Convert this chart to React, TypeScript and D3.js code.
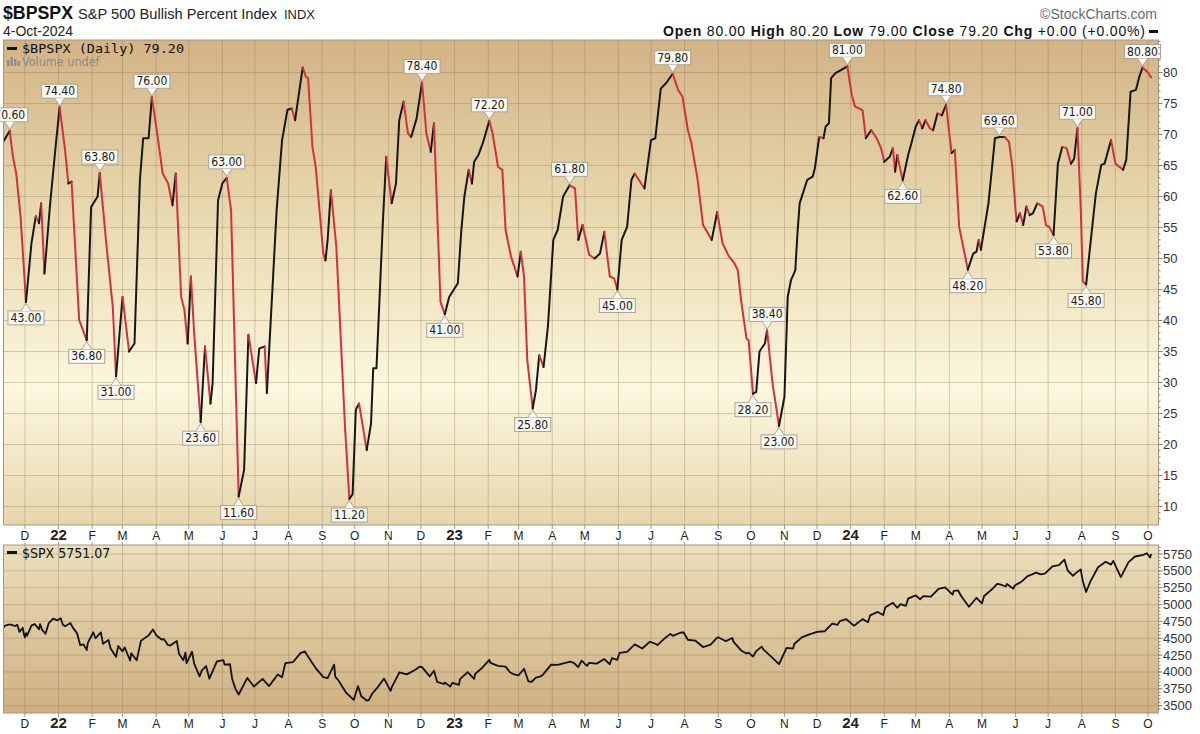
import React from 'react';
import * as d3 from 'd3';

// ---------- DATA ----------
const bpspxSeries: [string, number][] = [
  ["2021-11-11", 68.8], ["2021-11-17", 70.6], ["2021-11-20", 66.4], ["2021-11-23", 63.7], ["2021-11-27", 56.8],
  ["2021-12-02", 43.0], ["2021-12-07", 52.4], ["2021-12-11", 56.8], ["2021-12-14", 55.7], ["2021-12-16", 58.9],
  ["2021-12-19", 47.6], ["2021-12-24", 58.3], ["2021-12-29", 67.5], ["2022-01-02", 74.4], ["2022-01-07", 67.5],
  ["2022-01-10", 62.1], ["2022-01-13", 62.4], ["2022-01-20", 40.1], ["2022-01-27", 36.8], ["2022-01-31", 58.3],
  ["2022-02-06", 60.0], ["2022-02-08", 63.8], ["2022-02-14", 52.4], ["2022-02-20", 42.2], ["2022-02-23", 31.0],
  ["2022-02-26", 37.4], ["2022-03-01", 43.8], ["2022-03-07", 35.0], ["2022-03-12", 36.3], ["2022-03-17", 62.7],
  ["2022-03-20", 69.4], ["2022-03-25", 69.4], ["2022-03-28", 76.0], ["2022-04-01", 71.3], ["2022-04-07", 63.7],
  ["2022-04-12", 62.1], ["2022-04-16", 58.6], ["2022-04-19", 63.7], ["2022-04-24", 43.8], ["2022-04-27", 41.7],
  ["2022-04-30", 36.3], ["2022-05-03", 47.1], ["2022-05-06", 37.9], ["2022-05-12", 23.6], ["2022-05-16", 35.8],
  ["2022-05-21", 26.6], ["2022-05-23", 29.9], ["2022-05-28", 59.4], ["2022-06-01", 62.1], ["2022-06-05", 63.0],
  ["2022-06-09", 57.8], ["2022-06-16", 11.6], ["2022-06-21", 15.9], ["2022-06-25", 37.7], ["2022-07-02", 29.9],
  ["2022-07-05", 35.5], ["2022-07-10", 35.8], ["2022-07-12", 28.3], ["2022-07-21", 57.8], ["2022-07-26", 69.1],
  ["2022-07-31", 74.0], ["2022-08-04", 74.2], ["2022-08-07", 72.3], ["2022-08-14", 80.8], ["2022-08-17", 79.3],
  ["2022-08-19", 79.1], ["2022-08-23", 68.0], ["2022-08-26", 64.8], ["2022-09-02", 50.8], ["2022-09-04", 49.7],
  ["2022-09-06", 53.0], ["2022-09-09", 61.0], ["2022-09-14", 51.9], ["2022-09-22", 22.9], ["2022-09-26", 11.2],
  ["2022-09-29", 12.0], ["2022-10-02", 25.6], ["2022-10-05", 26.6], ["2022-10-12", 19.1], ["2022-10-16", 23.4],
  ["2022-10-18", 32.3], ["2022-10-21", 32.3], ["2022-10-27", 56.2], ["2022-10-30", 66.4], ["2022-11-04", 58.9],
  ["2022-11-08", 62.1], ["2022-11-11", 72.3], ["2022-11-15", 75.3], ["2022-11-19", 70.2], ["2022-11-22", 69.6],
  ["2022-11-27", 72.6], ["2022-12-02", 78.4], ["2022-12-06", 70.2], ["2022-12-10", 67.2], ["2022-12-13", 71.8],
  ["2022-12-19", 43.0], ["2022-12-23", 41.0], ["2022-12-27", 43.8], ["2023-01-04", 46.0], ["2023-01-07", 54.1],
  ["2023-01-10", 60.0], ["2023-01-14", 64.3], ["2023-01-17", 62.1], ["2023-01-19", 65.6], ["2023-01-23", 66.7],
  ["2023-01-27", 68.6], ["2023-02-02", 72.2], ["2023-02-05", 70.2], ["2023-02-10", 64.8], ["2023-02-14", 64.3],
  ["2023-02-17", 54.6], ["2023-02-22", 50.3], ["2023-02-28", 47.1], ["2023-03-03", 51.1], ["2023-03-06", 47.1],
  ["2023-03-09", 33.6], ["2023-03-14", 25.8], ["2023-03-17", 28.8], ["2023-03-20", 34.4], ["2023-03-24", 32.5],
  ["2023-03-28", 39.0], ["2023-04-02", 53.0], ["2023-04-06", 54.6], ["2023-04-11", 60.0], ["2023-04-17", 61.8],
  ["2023-04-22", 61.3], ["2023-04-25", 53.0], ["2023-04-29", 55.4], ["2023-05-05", 50.6], ["2023-05-10", 50.0],
  ["2023-05-15", 50.8], ["2023-05-19", 54.3], ["2023-05-24", 47.1], ["2023-05-28", 46.8], ["2023-05-31", 45.0],
  ["2023-06-04", 53.0], ["2023-06-09", 55.1], ["2023-06-13", 62.7], ["2023-06-16", 63.7], ["2023-06-25", 61.3],
  ["2023-07-01", 69.1], ["2023-07-05", 69.4], ["2023-07-10", 77.4], ["2023-07-15", 78.3], ["2023-07-21", 79.8],
  ["2023-07-26", 77.2], ["2023-07-30", 76.1], ["2023-08-04", 70.7], ["2023-08-07", 68.8], ["2023-08-13", 62.7],
  ["2023-08-18", 55.4], ["2023-08-26", 53.0], ["2023-08-31", 57.5], ["2023-09-05", 52.4], ["2023-09-11", 50.3],
  ["2023-09-16", 49.2], ["2023-09-19", 48.1], ["2023-09-22", 43.3], ["2023-09-27", 37.1], ["2023-09-29", 36.8],
  ["2023-10-03", 28.2], ["2023-10-06", 28.5], ["2023-10-09", 35.0], ["2023-10-14", 36.3], ["2023-10-16", 38.4],
  ["2023-10-21", 29.9], ["2023-10-27", 23.0], ["2023-11-01", 27.7], ["2023-11-04", 43.8], ["2023-11-07", 46.5],
  ["2023-11-11", 48.1], ["2023-11-13", 54.1], ["2023-11-15", 58.9], ["2023-11-18", 60.5], ["2023-11-22", 62.7],
  ["2023-11-27", 63.2], ["2023-11-29", 64.5], ["2023-12-03", 69.6], ["2023-12-07", 69.4], ["2023-12-09", 71.3],
  ["2023-12-12", 71.8], ["2023-12-14", 79.1], ["2023-12-18", 79.9], ["2023-12-23", 80.4], ["2023-12-29", 81.0],
  ["2024-01-02", 76.4], ["2024-01-05", 74.5], ["2024-01-09", 74.2], ["2024-01-12", 73.9], ["2024-01-15", 69.4],
  ["2024-01-20", 70.7], ["2024-01-25", 69.4], ["2024-01-29", 67.8], ["2024-02-01", 65.6], ["2024-02-06", 66.4],
  ["2024-02-09", 67.8], ["2024-02-11", 64.0], ["2024-02-13", 66.7], ["2024-02-18", 62.6], ["2024-02-23", 66.7],
  ["2024-02-26", 68.6], ["2024-03-01", 71.3], ["2024-03-04", 72.3], ["2024-03-07", 71.0], ["2024-03-10", 72.3],
  ["2024-03-14", 71.0], ["2024-03-17", 70.7], ["2024-03-21", 73.4], ["2024-03-25", 73.1], ["2024-03-29", 74.8],
  ["2024-04-03", 67.0], ["2024-04-06", 67.5], ["2024-04-10", 55.1], ["2024-04-18", 48.2], ["2024-04-23", 50.8],
  ["2024-04-26", 51.1], ["2024-04-28", 53.0], ["2024-04-30", 51.4], ["2024-05-07", 58.9], ["2024-05-13", 69.4],
  ["2024-05-17", 69.6], ["2024-05-22", 69.6], ["2024-05-26", 68.8], ["2024-05-29", 64.8], ["2024-06-01", 57.8],
  ["2024-06-02", 56.0], ["2024-06-05", 57.3], ["2024-06-08", 55.4], ["2024-06-11", 58.4], ["2024-06-14", 57.0],
  ["2024-06-17", 57.3], ["2024-06-21", 58.9], ["2024-06-26", 58.4], ["2024-06-29", 55.4], ["2024-07-02", 55.1],
  ["2024-07-06", 53.8], ["2024-07-10", 65.3], ["2024-07-14", 68.0], ["2024-07-18", 67.8], ["2024-07-22", 65.3],
  ["2024-07-25", 66.1], ["2024-07-28", 71.0], ["2024-07-31", 58.4], ["2024-08-02", 46.3], ["2024-08-05", 45.8],
  ["2024-08-09", 52.4], ["2024-08-14", 60.5], ["2024-08-19", 65.1], ["2024-08-22", 65.3], ["2024-08-25", 67.2],
  ["2024-08-28", 69.1], ["2024-09-01", 65.3], ["2024-09-08", 64.3], ["2024-09-11", 65.9], ["2024-09-15", 76.9],
  ["2024-09-20", 77.2], ["2024-09-23", 79.3], ["2024-09-26", 80.8], ["2024-10-01", 80.0], ["2024-10-04", 79.2],
];

const bpspxLabels: [string, number, 'above' | 'below'][] = [
  ["2021-11-17", 70.6, 'above'], ["2021-12-02", 43.0, 'below'], ["2022-01-02", 74.4, 'above'],
  ["2022-01-27", 36.8, 'below'], ["2022-02-08", 63.8, 'above'], ["2022-02-23", 31.0, 'below'],
  ["2022-03-28", 76.0, 'above'], ["2022-05-12", 23.6, 'below'], ["2022-06-05", 63.0, 'above'],
  ["2022-06-16", 11.6, 'below'], ["2022-09-26", 11.2, 'below'], ["2022-12-02", 78.4, 'above'],
  ["2022-12-23", 41.0, 'below'], ["2023-02-02", 72.2, 'above'], ["2023-03-14", 25.8, 'below'],
  ["2023-04-17", 61.8, 'above'], ["2023-05-31", 45.0, 'below'], ["2023-07-21", 79.8, 'above'],
  ["2023-10-03", 28.2, 'below'], ["2023-10-16", 38.4, 'above'], ["2023-10-27", 23.0, 'below'],
  ["2023-12-29", 81.0, 'above'], ["2024-02-18", 62.6, 'below'], ["2024-03-29", 74.8, 'above'],
  ["2024-04-18", 48.2, 'below'], ["2024-05-17", 69.6, 'above'], ["2024-07-06", 53.8, 'below'],
  ["2024-07-28", 71.0, 'above'], ["2024-08-05", 45.8, 'below'], ["2024-09-26", 80.8, 'above'],
];

const spxSeries: [string, number][] = [
  ["2021-11-11", 4649], ["2021-11-12", 4682], ["2021-11-16", 4701], ["2021-11-18", 4704], ["2021-11-22", 4682],
  ["2021-11-24", 4701], ["2021-11-26", 4595], ["2021-11-29", 4655], ["2021-11-30", 4567], ["2021-12-01", 4513],
  ["2021-12-02", 4577], ["2021-12-03", 4538], ["2021-12-07", 4687], ["2021-12-10", 4712], ["2021-12-14", 4634],
  ["2021-12-15", 4709], ["2021-12-17", 4620], ["2021-12-20", 4568], ["2021-12-23", 4725], ["2021-12-27", 4791],
  ["2021-12-31", 4766], ["2022-01-03", 4797], ["2022-01-05", 4700], ["2022-01-07", 4677], ["2022-01-12", 4726],
  ["2022-01-14", 4662], ["2022-01-18", 4577], ["2022-01-21", 4398], ["2022-01-24", 4410], ["2022-01-27", 4326],
  ["2022-01-28", 4432], ["2022-02-02", 4589], ["2022-02-04", 4500], ["2022-02-09", 4587], ["2022-02-11", 4418],
  ["2022-02-16", 4475], ["2022-02-18", 4349], ["2022-02-23", 4226], ["2022-02-25", 4385], ["2022-03-01", 4306],
  ["2022-03-03", 4363], ["2022-03-08", 4170], ["2022-03-09", 4278], ["2022-03-14", 4173], ["2022-03-18", 4463],
  ["2022-03-25", 4543], ["2022-03-29", 4631], ["2022-04-01", 4546], ["2022-04-06", 4481], ["2022-04-08", 4488],
  ["2022-04-12", 4397], ["2022-04-14", 4393], ["2022-04-20", 4459], ["2022-04-22", 4272], ["2022-04-26", 4175],
  ["2022-04-28", 4288], ["2022-04-29", 4132], ["2022-05-04", 4300], ["2022-05-06", 4123], ["2022-05-11", 3935],
  ["2022-05-13", 4024], ["2022-05-17", 4088], ["2022-05-20", 3901], ["2022-05-27", 4158], ["2022-06-02", 4176],
  ["2022-06-03", 4109], ["2022-06-08", 4115], ["2022-06-10", 3901], ["2022-06-13", 3750], ["2022-06-16", 3666],
  ["2022-06-24", 3912], ["2022-06-30", 3785], ["2022-07-08", 3899], ["2022-07-14", 3790], ["2022-07-22", 3962],
  ["2022-07-26", 3921], ["2022-07-29", 4130], ["2022-08-05", 4145], ["2022-08-12", 4280], ["2022-08-16", 4305],
  ["2022-08-19", 4228], ["2022-08-23", 4128], ["2022-08-26", 4058], ["2022-09-02", 3924], ["2022-09-06", 3909],
  ["2022-09-12", 4110], ["2022-09-13", 3932], ["2022-09-16", 3873], ["2022-09-23", 3693], ["2022-09-30", 3585],
  ["2022-10-04", 3791], ["2022-10-07", 3640], ["2022-10-12", 3577], ["2022-10-14", 3583], ["2022-10-17", 3677],
  ["2022-10-21", 3752], ["2022-10-28", 3901], ["2022-11-03", 3720], ["2022-11-04", 3771], ["2022-11-10", 3956],
  ["2022-11-11", 3993], ["2022-11-18", 3965], ["2022-11-25", 4026], ["2022-11-30", 4080], ["2022-12-02", 4072],
  ["2022-12-09", 3934], ["2022-12-13", 4019], ["2022-12-16", 3852], ["2022-12-22", 3822], ["2022-12-23", 3845],
  ["2022-12-28", 3783], ["2022-12-30", 3840], ["2023-01-05", 3808], ["2023-01-06", 3895], ["2023-01-13", 3999],
  ["2023-01-19", 3899], ["2023-01-20", 3973], ["2023-01-27", 4071], ["2023-02-02", 4179], ["2023-02-03", 4136],
  ["2023-02-10", 4090], ["2023-02-17", 4079], ["2023-02-21", 3997], ["2023-02-24", 3970], ["2023-03-01", 3951],
  ["2023-03-06", 4048], ["2023-03-10", 3862], ["2023-03-13", 3855], ["2023-03-17", 3917], ["2023-03-22", 3937],
  ["2023-03-24", 3971], ["2023-03-31", 4109], ["2023-04-06", 4105], ["2023-04-14", 4138], ["2023-04-18", 4154],
  ["2023-04-21", 4133], ["2023-04-25", 4071], ["2023-04-28", 4169], ["2023-05-03", 4091], ["2023-05-05", 4136],
  ["2023-05-12", 4124], ["2023-05-19", 4192], ["2023-05-24", 4115], ["2023-05-26", 4205], ["2023-05-31", 4180],
  ["2023-06-02", 4282], ["2023-06-09", 4299], ["2023-06-16", 4410], ["2023-06-23", 4348], ["2023-06-30", 4450],
  ["2023-07-06", 4411], ["2023-07-07", 4399], ["2023-07-14", 4505], ["2023-07-19", 4565], ["2023-07-21", 4536],
  ["2023-07-28", 4582], ["2023-07-31", 4589], ["2023-08-04", 4478], ["2023-08-11", 4464], ["2023-08-18", 4370],
  ["2023-08-25", 4406], ["2023-08-31", 4508], ["2023-09-01", 4516], ["2023-09-08", 4457], ["2023-09-14", 4505],
  ["2023-09-15", 4450], ["2023-09-22", 4320], ["2023-09-27", 4274], ["2023-09-29", 4288], ["2023-10-03", 4229],
  ["2023-10-06", 4309], ["2023-10-11", 4376], ["2023-10-13", 4327], ["2023-10-20", 4224], ["2023-10-27", 4117],
  ["2023-11-03", 4358], ["2023-11-09", 4347], ["2023-11-10", 4415], ["2023-11-17", 4514], ["2023-11-24", 4559],
  ["2023-12-01", 4595], ["2023-12-08", 4604], ["2023-12-15", 4719], ["2023-12-20", 4698], ["2023-12-22", 4755],
  ["2023-12-28", 4783], ["2024-01-04", 4688], ["2024-01-05", 4697], ["2024-01-12", 4784], ["2024-01-17", 4739],
  ["2024-01-19", 4840], ["2024-01-26", 4891], ["2024-01-31", 4846], ["2024-02-02", 4959], ["2024-02-09", 5026],
  ["2024-02-13", 4953], ["2024-02-16", 5006], ["2024-02-21", 4982], ["2024-02-23", 5089], ["2024-03-01", 5137],
  ["2024-03-05", 5079], ["2024-03-08", 5124], ["2024-03-15", 5117], ["2024-03-22", 5234], ["2024-03-28", 5254],
  ["2024-04-04", 5147], ["2024-04-05", 5204], ["2024-04-09", 5209], ["2024-04-12", 5123], ["2024-04-19", 4967],
  ["2024-04-26", 5100], ["2024-05-01", 5018], ["2024-05-03", 5128], ["2024-05-10", 5223], ["2024-05-15", 5308],
  ["2024-05-17", 5303], ["2024-05-23", 5268], ["2024-05-24", 5305], ["2024-05-30", 5236], ["2024-05-31", 5278],
  ["2024-06-07", 5347], ["2024-06-12", 5421], ["2024-06-14", 5432], ["2024-06-20", 5473], ["2024-06-24", 5448],
  ["2024-06-28", 5460], ["2024-07-05", 5567], ["2024-07-11", 5585], ["2024-07-16", 5667], ["2024-07-19", 5505],
  ["2024-07-24", 5427], ["2024-07-26", 5459], ["2024-07-31", 5522], ["2024-08-02", 5346], ["2024-08-05", 5186],
  ["2024-08-09", 5344], ["2024-08-16", 5554], ["2024-08-23", 5634], ["2024-08-28", 5592], ["2024-08-30", 5648],
  ["2024-09-06", 5408], ["2024-09-13", 5626], ["2024-09-19", 5713], ["2024-09-27", 5738], ["2024-09-30", 5762],
  ["2024-10-03", 5699], ["2024-10-04", 5751],
];

const bpspxTicks = [10, 15, 20, 25, 30, 35, 40, 45, 50, 55, 60, 65, 70, 75, 80];
const spxTicks = [3500, 3750, 4000, 4250, 4500, 4750, 5000, 5250, 5500, 5750];
const monthLetters = ['J', 'F', 'M', 'A', 'M', 'J', 'J', 'A', 'S', 'O', 'N', 'D'];

// ---------- STYLE ----------
const SANS = "'Liberation Sans', Arial, sans-serif";
const COND = "'DejaVu Sans Condensed', 'DejaVu Sans', sans-serif";
const MONO = "'DejaVu Sans Mono', monospace";
const UP = '#161616';
const DOWN = '#d0313c';
const GRID = 'rgba(140,112,80,0.32)';
const BORDER = '#a39584';

export default function App() {
  const parse = d3.timeParse('%Y-%m-%d');
  const L = 3.5, R = 1158.5;
  const T0 = 40, T1 = 525, B0 = 545, B1 = 713;

  const x = d3.scaleTime()
    .domain([parse('2021-11-11') as Date, parse('2024-10-11') as Date])
    .range([3.2, 1158.8]);
  const yT = d3.scaleLinear().domain([10, 80]).range([506.5, 72.5]);
  const yB = d3.scaleLinear().domain([3500, 5750]).range([705.7, 554]);

  const months = d3.timeMonth.range(parse('2021-12-01') as Date, parse('2024-10-02') as Date);
  const monthLabel = (d: Date) => (d.getMonth() === 0 ? d3.timeFormat('%y')(d) : monthLetters[d.getMonth()]);

  const pts = bpspxSeries.map(([d, v]) => ({ x: x(parse(d) as Date), y: yT(v), v }));
  const runs: { color: string; pts: { x: number; y: number; v: number }[] }[] = [];
  let cur: any = null;
  for (let i = 1; i < pts.length; i++) {
    const color = pts[i].v >= pts[i - 1].v ? UP : DOWN;
    if (!cur || cur.color !== color) {
      cur = { color, pts: [pts[i - 1]] };
      runs.push(cur);
    }
    cur.pts.push(pts[i]);
  }
  const line = d3.line<{ x: number; y: number }>().x((p) => p.x).y((p) => p.y);
  const spxLine = d3.line<[string, number]>()
    .x((d) => x(parse(d[0]) as Date))
    .y((d) => yB(d[1]));

  const minorT = d3.range(7, 86).filter((v) => yT(v) > T0 && yT(v) < T1);
  const minorB = d3.range(3450, 5950, 50).filter((v) => yB(v) > B0 && yB(v) < B1);

  const bw = 36, bh = 14, gap = 9;

  return (
    <svg width={1200} height={734} style={{ position: 'absolute', left: 0, top: 0, background: '#fff' }}>
      <defs>
        <linearGradient id="gTop" x1="0" y1="0" x2="0" y2="1">
          <stop offset="0" stopColor="#d2b385" />
          <stop offset="0.35" stopColor="#e8d8ae" />
          <stop offset="0.72" stopColor="#fcf7de" />
          <stop offset="1" stopColor="#e7d6ad" />
        </linearGradient>
        <linearGradient id="gBot" x1="0" y1="0" x2="0" y2="1">
          <stop offset="0" stopColor="#ebdfbb" />
          <stop offset="1" stopColor="#cfb081" />
        </linearGradient>
        <clipPath id="cTop"><rect x={L} y={T0} width={R - L} height={T1 - T0} /></clipPath>
        <clipPath id="cBot"><rect x={L} y={B0} width={R - L} height={B1 - B0} /></clipPath>
      </defs>

      {/* Header */}
      <text x={3} y={19} fontFamily={SANS} fontSize={19} fontWeight="bold" fill="#111" textLength={70} lengthAdjust="spacingAndGlyphs">$BPSPX</text>
      <text x={78} y={19} fontFamily={SANS} fontSize={15} fill="#222" textLength={199} lengthAdjust="spacingAndGlyphs">S&amp;P 500 Bullish Percent Index</text>
      <text x={284} y={19} fontFamily={SANS} fontSize={13} fill="#222" textLength={31} lengthAdjust="spacingAndGlyphs">INDX</text>
      <text x={3} y={36} fontFamily={SANS} fontSize={14} fill="#222">4-Oct-2024</text>
      <text x={1157} y={19} textAnchor="end" fontFamily={SANS} fontSize={14} fill="#6a6a6a">©StockCharts.com</text>
      <text x={663} y={36} fontFamily={SANS} fontSize={14} fill="#111" textLength={482} lengthAdjust="spacing">
        <tspan fontWeight="bold">Open</tspan><tspan> 80.00 </tspan>
        <tspan fontWeight="bold">High</tspan><tspan> 80.20 </tspan>
        <tspan fontWeight="bold">Low</tspan><tspan> 79.00 </tspan>
        <tspan fontWeight="bold">Close</tspan><tspan> 79.20 </tspan>
        <tspan fontWeight="bold">Chg</tspan><tspan> +0.00 (+0.00%)</tspan>
      </text>
      <rect x={1149} y={30} width={9} height={3} fill="#111" />

      {/* Top panel */}
      <rect x={L} y={T0} width={R - L} height={T1 - T0} fill="url(#gTop)" />
      <g stroke={GRID} strokeWidth={1}>
        {months.map((m, i) => (
          <line key={'vt' + i} x1={x(m)} x2={x(m)} y1={T0} y2={T1} />
        ))}
        {bpspxTicks.map((t) => (
          <line key={'ht' + t} x1={L} x2={R} y1={yT(t)} y2={yT(t)} />
        ))}
      </g>
      <g clipPath="url(#cTop)" fill="none" strokeWidth={2} strokeLinejoin="round" strokeLinecap="round">
        {runs.map((r, i) => (
          <path key={'r' + i} d={line(r.pts) || ''} stroke={r.color} />
        ))}
      </g>
      <rect x={L} y={T0} width={R - L} height={T1 - T0} fill="none" stroke={BORDER} />

      {/* data labels */}
      <g fontFamily={COND} fontSize={12} fill="#1a1a1a">
        {bpspxLabels.map(([d, v, pos], i) => {
          const px = x(parse(d) as Date);
          const py = yT(v);
          const above = pos === 'above';
          const by = above ? py - gap - bh : py + gap;
          const baseY = above ? py - gap : py + gap;
          const tipY = above ? py - 1.5 : py + 1.5;
          return (
            <g key={'lb' + i}>
              <rect x={px - bw / 2} y={by} width={bw} height={bh} fill="#fbf9f1" stroke="#a8a29a" strokeWidth={1} />
              <path
                d={`M${px - 5},${baseY} L${px},${tipY} L${px + 5},${baseY}`}
                fill="#fbf9f1"
                stroke="#a8a29a"
                strokeWidth={1}
              />
              <text x={px} y={by + bh - 3} textAnchor="middle">{v.toFixed(2)}</text>
            </g>
          );
        })}
      </g>

      {/* Top legend */}
      <rect x={7} y={47} width={10} height={3} fill="#111" />
      <text x={22} y={53} fontFamily={MONO} fontSize={13} fill="#111" textLength={162} lengthAdjust="spacingAndGlyphs">$BPSPX (Daily) 79.20</text>
      <g fill="#8f8f8f">
        <rect x={7} y={60} width={2.5} height={6} />
        <rect x={10.5} y={57} width={2.5} height={9} />
        <rect x={14} y={59} width={2.5} height={7} />
        <rect x={17.5} y={61} width={2.5} height={5} />
      </g>
      <text x={22} y={66} fontFamily={COND} fontSize={12.5} fill="#8a8a8a">Volume undef</text>

      {/* right axis top */}
      <g stroke="#8a7f72" strokeWidth={1}>
        {minorT.map((v) => (
          <line key={'mt' + v} x1={R} x2={R + 2} y1={yT(v)} y2={yT(v)} />
        ))}
        {bpspxTicks.map((t) => (
          <line key={'tt' + t} x1={R} x2={R + 4} y1={yT(t)} y2={yT(t)} />
        ))}
      </g>
      <g fontFamily={SANS} fontSize={13} fill="#333">
        {bpspxTicks.map((t) => (
          <text key={'tl' + t} x={R + 4.5} y={yT(t) + 4.5}>{t}</text>
        ))}
      </g>

      {/* middle x axis */}
      <g stroke="#9a9a9a" strokeWidth={1}>
        {months.map((m, i) => (
          <line key={'xt1' + i} x1={x(m)} x2={x(m)} y1={T1} y2={T1 + 4} />
        ))}
        {months.map((m, i) => (
          <line key={'xt2' + i} x1={x(m)} x2={x(m)} y1={B0 - 3} y2={B0} />
        ))}
      </g>
      <g fontFamily={SANS} fill="#222" textAnchor="middle">
        {months.map((m, i) => (
          <text
            key={'xl1' + i}
            x={x(m)}
            y={540}
            fontSize={m.getMonth() === 0 ? 15 : 12}
            fontWeight={m.getMonth() === 0 ? 'bold' : 'normal'}
          >
            {monthLabel(m)}
          </text>
        ))}
      </g>

      {/* Bottom panel */}
      <rect x={L} y={B0} width={R - L} height={B1 - B0} fill="url(#gBot)" />
      <g stroke={GRID} strokeWidth={1}>
        {months.map((m, i) => (
          <line key={'vb' + i} x1={x(m)} x2={x(m)} y1={B0} y2={B1} />
        ))}
        {spxTicks.map((t) => (
          <line key={'hb' + t} x1={L} x2={R} y1={yB(t)} y2={yB(t)} />
        ))}
      </g>
      <g clipPath="url(#cBot)">
        <path d={spxLine(spxSeries) || ''} fill="none" stroke="#111" strokeWidth={1.8} strokeLinejoin="round" />
      </g>
      <rect x={L} y={B0} width={R - L} height={B1 - B0} fill="none" stroke={BORDER} />
      <rect x={7} y={551} width={10} height={3} fill="#111" />
      <text x={22} y={558} fontFamily={COND} fontSize={14} fill="#111">$SPX 5751.07</text>

      <g stroke="#8a7f72" strokeWidth={1}>
        {minorB.map((v) => (
          <line key={'mb' + v} x1={R} x2={R + 2} y1={yB(v)} y2={yB(v)} />
        ))}
        {spxTicks.map((t) => (
          <line key={'tb' + t} x1={R} x2={R + 4} y1={yB(t)} y2={yB(t)} />
        ))}
      </g>
      <g fontFamily={SANS} fontSize={13} fill="#333">
        {spxTicks.map((t) => (
          <text key={'bl' + t} x={R + 4.5} y={yB(t) + 4.5}>{t}</text>
        ))}
      </g>

      {/* bottom x axis */}
      <g stroke="#9a9a9a" strokeWidth={1}>
        {months.map((m, i) => (
          <line key={'xt3' + i} x1={x(m)} x2={x(m)} y1={B1} y2={B1 + 4} />
        ))}
      </g>
      <g fontFamily={SANS} fill="#222" textAnchor="middle">
        {months.map((m, i) => (
          <text
            key={'xl2' + i}
            x={x(m)}
            y={728}
            fontSize={m.getMonth() === 0 ? 15 : 12}
            fontWeight={m.getMonth() === 0 ? 'bold' : 'normal'}
          >
            {monthLabel(m)}
          </text>
        ))}
      </g>
    </svg>
  );
}
